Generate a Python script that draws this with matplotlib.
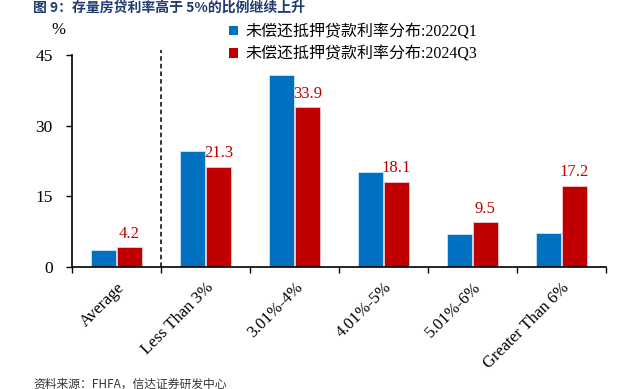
import matplotlib
matplotlib.use('Agg')
from matplotlib import pyplot as plt
from matplotlib.patches import Patch
import numpy as np

# data
categories = ['Average', 'Less Than 3%', '3.01%-4%', '4.01%-5%', '5.01%-6%', 'Greater Than 6%']
rate_2022q1 = [3.6, 24.6, 40.7, 20.1, 6.9, 7.2]
rate_2024q3 = [4.2, 21.3, 33.9, 18.1, 9.5, 17.2]
series_names = ['未偿还抵押贷款利率分布:2022Q1', '未偿还抵押贷款利率分布:2024Q3']
y_ticks = [0, 15, 30, 45]

BLUE = '#0070C0'
RED = '#C00000'
serif = ['Liberation Serif', 'Noto Sans CJK SC']

fig = plt.figure(figsize=(6.29, 3.89), dpi=100)
ax = fig.add_axes([72 / 629, 1 - 267 / 389, 534 / 629, 212 / 389])

x = np.arange(len(categories))
w = 0.275
ax.bar(x - 0.145, rate_2022q1, w, color=BLUE, edgecolor='#cfe3f5', linewidth=0.6)
ax.bar(x + 0.145, rate_2024q3, w, color=RED, edgecolor='#f0c8c8', linewidth=0.6)

# labels on the red bars only
for xi, v in zip(x, rate_2024q3):
    ax.annotate(f'{v:.1f}', (xi + 0.145, v), xytext=(0, 4), textcoords='offset points',
                ha='center', va='bottom', color=RED, fontsize=12, family=serif)

# dashed separator after "Average"
ax.vlines(0.5, 0, 46.0, colors='black', linestyles=(0, (3, 2)), linewidth=1.1, clip_on=False)

ax.set_xlim(-0.5, len(categories) - 0.5)
ax.set_ylim(0, 45)
ax.set_yticks(y_ticks)
ax.set_yticklabels([str(t) for t in y_ticks], family=serif, fontsize=12.5)
ax.tick_params(axis='y', direction='out', length=4, width=1, pad=10)

ax.set_xticks(x)
ax.set_xticklabels(categories, rotation=45, ha='right', rotation_mode='anchor',
                   family=serif, fontsize=12)
ax.tick_params(axis='x', which='major', length=0, pad=9)
ax.set_xticks(np.arange(-0.5, len(categories), 1.0), minor=True)
ax.tick_params(axis='x', which='minor', direction='out', length=4, width=1)

for s in ['top', 'right']:
    ax.spines[s].set_visible(False)
for s in ['left', 'bottom']:
    ax.spines[s].set_linewidth(1.2)

fig.text(58 / 629, 1 - 30 / 389, '%', family=serif, fontsize=12, ha='center', va='center')

handles = [Patch(facecolor=BLUE), Patch(facecolor=RED)]
fig.legend(handles, series_names, loc='upper left', bbox_to_anchor=(229 / 629, 1 - 24 / 389),
           frameon=False, prop={'family': serif, 'size': 11.5}, handlelength=0.55, handleheight=0.55,
           handletextpad=0.45, labelspacing=0.4, borderaxespad=0, borderpad=0)

fig.text(33 / 629, 1 - 0.5 / 389, '图 9：存量房贷利率高于 5%的比例继续上升', family=['Noto Sans CJK SC', 'DejaVu Sans'],
         fontsize=10, fontweight='bold', color='#1F3A6E', ha='left', va='top')
fig.text(33 / 629, 1 - 384 / 389, '资料来源：FHFA，信达证券研发中心', family=['Noto Sans CJK SC', 'DejaVu Sans'],
         fontsize=8.5, color='#333333', ha='left', va='center')

fig.savefig('out.png', dpi=100)
